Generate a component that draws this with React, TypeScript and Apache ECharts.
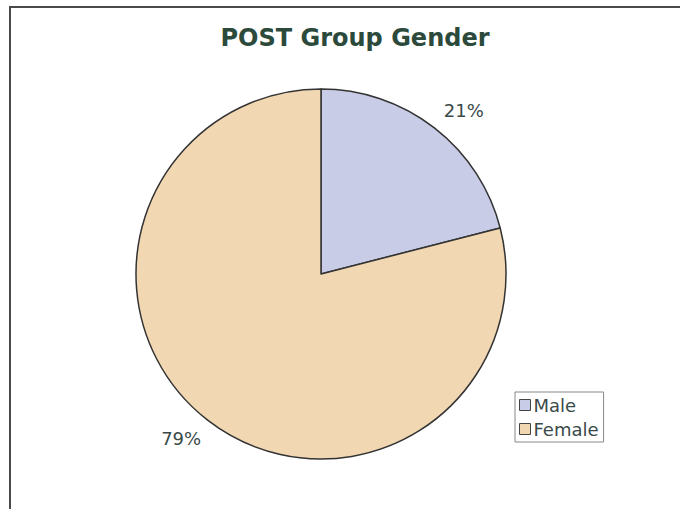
import React, { useEffect, useRef } from "react";
import * as echarts from "echarts";

const titleText = "POST Group Gender";
const categories = ["Male", "Female"];
const values = [21, 79];
const colors = ["#c8cce6", "#f1d7b2"];
const labelOffsets = [[8, 10], [-5, -9]];

export default function App() {
  const ref = useRef<HTMLDivElement>(null);
  useEffect(() => {
    if (!ref.current) return;
    const chart = echarts.init(ref.current, null, { renderer: "svg" });
    const data = categories.map((name, i) => ({
      name,
      value: values[i],
      itemStyle: { color: colors[i] },
    }));
    chart.setOption({
      animation: false,
      backgroundColor: "#ffffff",
      title: {
        text: titleText,
        left: 350,
        top: 21,
        textAlign: "center",
        textStyle: {
          fontFamily: "DejaVu Sans",
          fontWeight: "bold",
          fontSize: 24,
          color: "#2b4a3c",
        },
      },
      legend: {
        orient: "vertical",
        left: 515,
        top: 392,
        data: categories,
        icon: "rect",
        itemWidth: 11,
        itemHeight: 11,
        itemGap: 6,
        padding: [4, 5, 4, 4],
        borderColor: "#888",
        borderWidth: 1,
        backgroundColor: "#fff",
        itemStyle: { borderColor: "#444", borderWidth: 1 },
        textStyle: {
          fontFamily: "DejaVu Sans",
          fontSize: 18,
          color: "#3a4a48",
          padding: [0, 0, 0, -2],
        },
      },
      graphic: [
        {
          type: "polyline",
          shape: { points: [[10, 509], [10, 7], [680, 7]] },
          style: { stroke: "#4a4a4a", lineWidth: 2, fill: "none" },
          silent: true,
        },
      ],
      series: [
        {
          type: "pie",
          center: [321, 274],
          radius: [0, 185],
          startAngle: 90,
          clockwise: true,
          data,
          label: { show: false },
          labelLine: { show: false },
          itemStyle: { borderColor: "#333", borderWidth: 1.5 },
          silent: true,
        },
        {
          type: "pie",
          center: [321, 274],
          radius: [0, 434],
          startAngle: 90,
          clockwise: true,
          data: categories.map((name, i) => ({
            name,
            value: values[i],
            label: { offset: labelOffsets[i] },
          })),
          itemStyle: { color: "transparent", borderWidth: 0 },
          label: {
            show: true,
            position: "inside",
            formatter: "{d}%",
            fontFamily: "DejaVu Sans",
            fontSize: 18,
            color: "#3a4a48",
          },
          labelLine: { show: false },
          silent: true,
          z: 3,
        },
      ],
    });
    return () => chart.dispose();
  }, []);
  return (
    <div
      ref={ref}
      style={{ position: "fixed", left: 0, top: 0, width: 680, height: 509 }}
    />
  );
}
